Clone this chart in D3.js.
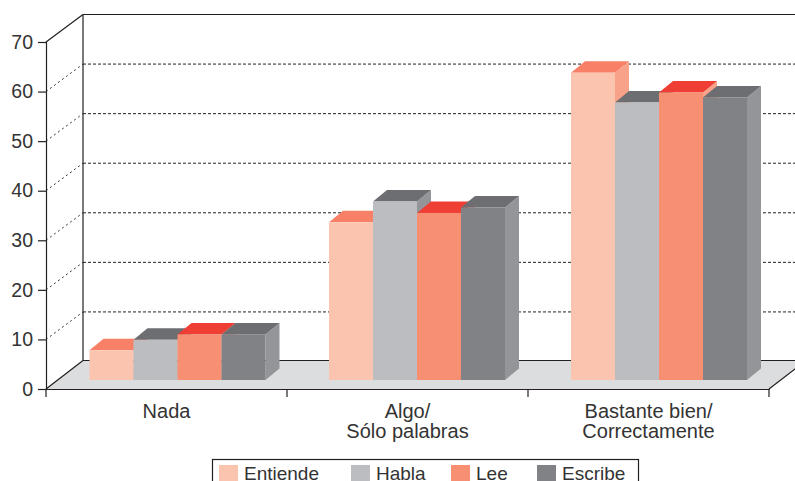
<!DOCTYPE html>
<html>
<head>
<meta charset="utf-8">
<script src="https://cdn.jsdelivr.net/npm/d3@7"></script>
<style>
html, body { margin: 0; padding: 0; background: #fff; overflow: hidden; }
text { font-family: "Liberation Sans", sans-serif; fill: #333; }
</style>
</head>
<body>
<script>
const categories = [["Nada"], ["Algo/", "Sólo palabras"], ["Bastante bien/", "Correctamente"]];
const seriesNames = ["Entiende", "Habla", "Lee", "Escribe"];
const entiende = [6, 31.8, 62];
const habla = [8.1, 36, 56];
const lee = [9.2, 33.7, 58];
const escribe = [9.2, 34.8, 57];
const yTicks = [0, 10, 20, 30, 40, 50, 60, 70];

const seriesValues = [entiende, habla, lee, escribe];
const frontColors = ["#fbc4af", "#bbbdc0", "#f78f72", "#808285"];
const topColors = ["#f78066", "#6d6e71", "#ef3e33", "#6d6e71"];
const sideColors = ["#f8a28a", "#939598", "#f8a28a", "#939598"];

const W = 795, H = 481;
const depthX = 37, depthY = 27.5;   // whole floor depth
const barDX = 14, barDY = 11.5;     // depth of a bar
const planeX = 11, planeY = 9;      // bars stand this far in from the front edge
const groupNudge = [0, -1.5, -0.5]; // the groups are not quite evenly spaced

const svg = d3.select("body").append("svg")
	.attr("width", W)
	.attr("height", H)
	.style("display", "block");

const y = d3.scaleLinear().domain([0, 70]).range([389, 42]);
const x0 = d3.scaleBand().domain(d3.range(categories.length)).range([46, 769]);
const x1 = d3.scaleBand().domain(d3.range(seriesNames.length)).range([0, 176]);

// floor
const floorPts = [[46, y(0)], [769, y(0)], [769 + depthX, y(0) - depthY - 1], [46 + depthX, y(0) - depthY - 1]];
svg.append("polygon")
	.attr("points", floorPts.join(" "))
	.attr("fill", "#dcddde");

// dashed grid, side wall + back wall
const gridVals = yTicks.filter(d => d > 0 && d < 70);
svg.selectAll(".diag").data(gridVals).join("line")
	.attr("x1", 46).attr("x2", 46 + depthX)
	.attr("y1", d => y(d)).attr("y2", d => y(d) - depthY)
	.attr("stroke", "#333").attr("stroke-width", 1).attr("stroke-dasharray", "2 3");
svg.selectAll(".grid").data(gridVals).join("line")
	.attr("x1", 46 + depthX).attr("x2", W)
	.attr("y1", d => y(d) - depthY).attr("y2", d => y(d) - depthY)
	.attr("stroke", "#222").attr("stroke-width", 1).attr("stroke-dasharray", "3 2");

// wall outlines
const lineColor = "#231f20";
const outline = [
	[46, y(70), 46 + depthX, y(70) - depthY],
	[46 + depthX, y(70) - depthY, W, y(70) - depthY],
	[46 + depthX, y(70) - depthY, 46 + depthX, y(0) - depthY - 1],
	[46 + depthX, y(0) - depthY - 1, W, y(0) - depthY - 1],
	[46, y(0), 46 + depthX, y(0) - depthY - 1],
	[769, y(0), 769 + depthX, y(0) - depthY - 1]
];
svg.selectAll(".outline").data(outline).join("line")
	.attr("x1", d => d[0]).attr("y1", d => d[1])
	.attr("x2", d => d[2]).attr("y2", d => d[3])
	.attr("stroke", lineColor).attr("stroke-width", 1.2);

// bars: left to right so the next bar covers the side of the one before
categories.forEach((cat, c) => {
	const g = svg.append("g");
	seriesValues.forEach((vals, s) => {
		const left = x0(c) + x0.bandwidth() / 2 + planeX + groupNudge[c] - x1.range()[1] / 2 + x1(s);
		const right = left + x1.bandwidth();
		const base = y(0) - planeY;
		const top = y(vals[c]) - planeY;
		g.append("polygon")
			.attr("fill", sideColors[s])
			.attr("points", [[right, top], [right + barDX, top - barDY], [right + barDX, base - barDY], [right, base]].join(" "));
		g.append("polygon")
			.attr("fill", topColors[s])
			.attr("points", [[left, top], [left + barDX, top - barDY], [right + barDX, top - barDY], [right, top]].join(" "));
		g.append("rect")
			.attr("x", left).attr("y", top)
			.attr("width", x1.bandwidth()).attr("height", base - top)
			.attr("fill", frontColors[s]);
	});
});

// axes
const yAxis = svg.append("g")
	.attr("transform", "translate(46,0)")
	.call(d3.axisLeft(y).tickValues(yTicks).tickSize(8).tickPadding(5));
yAxis.select(".domain").attr("stroke", lineColor).attr("stroke-width", 1.2);
yAxis.selectAll("line").attr("stroke", lineColor).attr("stroke-width", 1.2);
yAxis.selectAll("text").attr("font-size", 19.5).attr("x", -13).attr("fill", null);
yAxis.attr("font-family", null).attr("font-size", null);

const xAxis = svg.append("g")
	.attr("transform", `translate(0,${y(0)})`)
	.call(d3.axisBottom(x0).tickValues([]).tickSizeOuter(0));
xAxis.select(".domain").attr("stroke", lineColor).attr("stroke-width", 1.2);
xAxis.selectAll(".tk").data(d3.range(categories.length + 1)).join("line")
	.attr("x1", d => x0.range()[0] + d * x0.step()).attr("x2", d => x0.range()[0] + d * x0.step())
	.attr("y1", 0).attr("y2", 8)
	.attr("stroke", lineColor).attr("stroke-width", 1.2);

// category labels
const labels = svg.selectAll(".cat").data(categories).join("text")
	.attr("text-anchor", "middle")
	.attr("font-size", 20);
labels.selectAll("tspan").data((d, i) => d.map(t => ({ t, i }))).join("tspan")
	.attr("x", d => x0(d.i) + x0.bandwidth() / 2)
	.attr("y", (d, j) => 418 + j * 20)
	.text(d => d.t);

// legend
const legendX = [219, 351, 451, 537];
svg.append("rect")
	.attr("x", 212.5).attr("y", 459.5)
	.attr("width", 426).attr("height", 40)
	.attr("fill", "none").attr("stroke", lineColor).attr("stroke-width", 1.2);
const legend = svg.selectAll(".leg").data(seriesNames).join("g")
	.attr("transform", (d, i) => `translate(${legendX[i]},0)`);
legend.append("rect")
	.attr("y", 465).attr("width", 19).attr("height", 19)
	.attr("fill", (d, i) => frontColors[i]);
legend.append("text")
	.attr("x", 25).attr("y", 480)
	.attr("font-size", 19)
	.text(d => d);
</script>
</body>
</html>
